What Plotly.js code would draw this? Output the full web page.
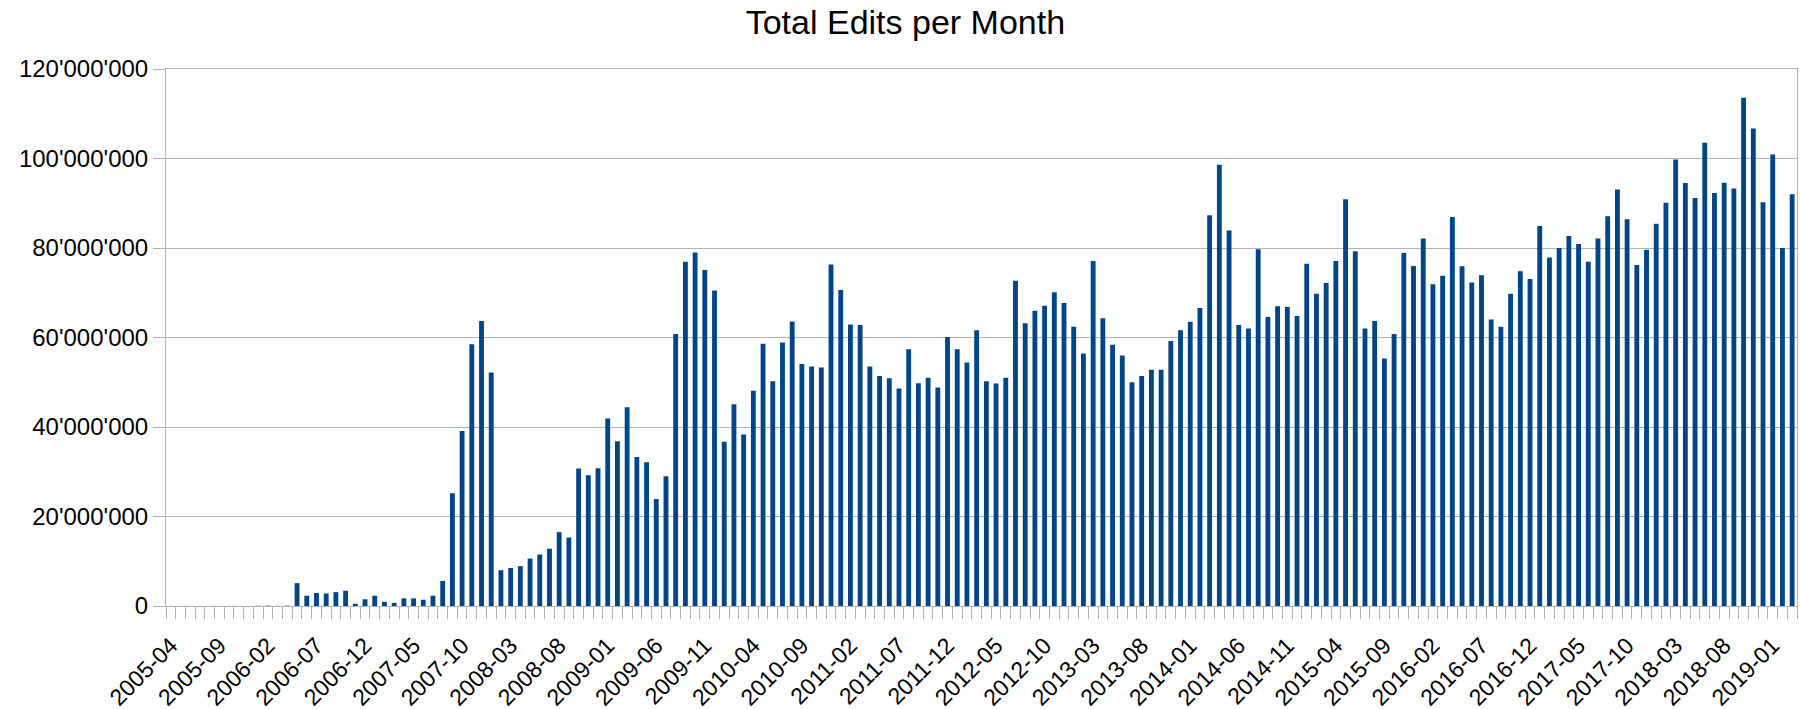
<!DOCTYPE html>
<html>
<head>
<meta charset="utf-8">
<script src="https://cdn.plot.ly/plotly-3.0.1.min.js"></script>
<style>
  html, body { margin: 0; padding: 0; background: #ffffff; }
  #chart { width: 1800px; height: 709px; }
</style>
</head>
<body>
<div id="chart"></div>
<script>
// Categories: months 2005-04 .. 2019-03
const firstYear = 2005, firstMonth = 4, monthCount = 168;
const months = [];
for (let i = 0; i < monthCount; i++) {
  const m = firstMonth - 1 + i;
  const y = firstYear + Math.floor(m / 12);
  const mm = (m % 12) + 1;
  months.push(y + '-' + (mm < 10 ? '0' + mm : '' + mm));
}

// Total edits per month, in millions
const editsMillions = [
  0, 0, 0, 0, 0, 0, 0, 0, 0, 0.05, 0.08, 0.03, 0.06,
  5.1, 2.3, 2.9, 2.8, 3.1, 3.4, 0.5, 1.5, 2.3, 0.95, 0.7, 1.7, 1.7, 1.4, 2.3, 5.6,
  25.2, 39.1, 58.5, 63.7, 52.2, 8.0, 8.5, 8.9, 10.6, 11.5, 12.8, 16.5, 15.3,
  30.7, 29.2, 30.8, 41.9, 36.8, 44.4, 33.3, 32.1, 23.9, 29.0, 60.8, 76.9, 79.0,
  75.1, 70.5, 36.7, 45.1, 38.3, 48.1, 58.6, 50.2, 58.9, 63.6, 54.1, 53.5, 53.3,
  76.3, 70.6, 62.9, 62.8, 53.5, 51.4, 50.9, 48.6, 57.4, 49.8, 51.0, 48.8, 60.1,
  57.4, 54.4, 61.6, 50.2, 49.7, 51.0, 72.7, 63.2, 66.0, 67.1, 70.1, 67.7, 62.4,
  56.4, 77.1, 64.3, 58.4, 56.0, 50.0, 51.4, 52.8, 52.8, 59.2, 61.6, 63.5, 66.6,
  87.3, 98.6, 83.9, 62.8, 62.0, 79.7, 64.6, 67.0, 66.8, 64.8, 76.5, 69.8, 72.2,
  77.1, 90.9, 79.3, 62.0, 63.7, 55.3, 60.8, 78.9, 76.0, 82.1, 71.9, 73.8, 86.9,
  75.9, 72.3, 73.9, 64.0, 62.4, 69.8, 74.8, 73.1, 84.9, 77.9, 80.0, 82.7, 80.9,
  76.9, 82.1, 87.1, 93.1, 86.4, 76.2, 79.6, 85.4, 90.1, 99.8, 94.5, 91.2, 103.5,
  92.3, 94.6, 93.3, 113.6, 106.7, 90.2, 100.9, 80.0, 92.0
];

// Labelled ticks
const tickLabels = [
  '2005-04','2005-09','2006-02','2006-07','2006-12','2007-05','2007-10','2008-03',
  '2008-08','2009-01','2009-06','2009-11','2010-04','2010-09','2011-02','2011-07',
  '2011-12','2012-05','2012-10','2013-03','2013-08','2014-01','2014-06','2014-11',
  '2015-04','2015-09','2016-02','2016-07','2016-12','2017-05','2017-10','2018-03',
  '2018-08','2019-01'
];

const edits = editsMillions.map(v => v * 1e6);
const tickText = months.map(m => tickLabels.includes(m) ? m : '');

const gridColor = '#b3b3b3';
const fontFam = '"Liberation Sans", Arial, sans-serif';

const trace = {
  type: 'bar',
  x: months,
  y: edits,
  marker: { color: '#004586', line: { width: 0 } },
  hoverinfo: 'x+y'
};

const layout = {
  width: 1800,
  height: 709,
  paper_bgcolor: '#ffffff',
  plot_bgcolor: '#ffffff',
  separators: ".'",
  showlegend: false,
  bargap: 0.5,
  margin: { l: 166, r: 3, t: 69, b: 103, pad: 0 },
  font: { family: fontFam, color: '#000000', size: 24 },
  title: {
    text: 'Total Edits per Month',
    font: { family: fontFam, size: 34, color: '#000000' },
    x: 0.503,
    xref: 'container',
    xanchor: 'center',
    y: 0.969,
    yref: 'container',
    yanchor: 'middle'
  },
  xaxis: {
    type: 'category',
    tickmode: 'array',
    tickvals: months,
    ticktext: tickText,
    tickson: 'boundaries',
    ticks: 'outside',
    ticklen: 12,
    tickwidth: 1,
    tickcolor: gridColor,
    tickangle: -45,
    ticklabelstandoff: 16,
    tickfont: { family: fontFam, size: 23, color: '#000000' },
    showgrid: false,
    showline: true,
    linecolor: gridColor,
    linewidth: 1,
    mirror: true,
    zeroline: false,
    automargin: false
  },
  yaxis: {
    range: [0, 120e6],
    tickmode: 'linear',
    tick0: 0,
    dtick: 20e6,
    tickformat: ',d',
    ticks: 'outside',
    ticklen: 12,
    tickwidth: 1,
    tickcolor: gridColor,
    tickfont: { family: fontFam, size: 24, color: '#000000' },
    showgrid: true,
    gridcolor: gridColor,
    gridwidth: 1,
    showline: true,
    linecolor: gridColor,
    linewidth: 1,
    mirror: true,
    zeroline: false,
    automargin: false
  }
};

Plotly.newPlot('chart', [trace], layout, { displayModeBar: false, staticPlot: true });
</script>
</body>
</html>
